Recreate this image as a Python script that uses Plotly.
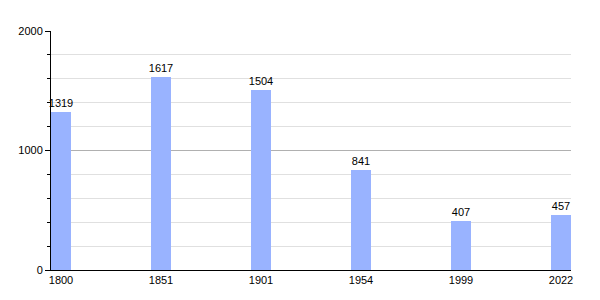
import plotly.graph_objects as go

years = ["1800", "1851", "1901", "1954", "1999", "2022"]
population = [1319, 1617, 1504, 841, 407, 457]
positions = list(range(len(years)))

fig = go.Figure(go.Bar(
    x=positions, y=population, width=0.2,
    marker=dict(color="#99b3ff", line=dict(width=0)),
    text=[str(v) for v in population], textposition="outside",
    textfont=dict(family="Liberation Sans, Arial", size=11, color="black"),
    constraintext="none",
    cliponaxis=False,
))

fig.update_layout(
    width=600, height=300,
    margin=dict(l=51, r=29, t=31, b=30),
    plot_bgcolor="white", paper_bgcolor="white",
    showlegend=False,
    font=dict(family="Liberation Sans, Arial", size=11, color="black"),
    bargap=0,
)
fig.update_xaxes(
    range=[-0.1, 5.1], tickvals=positions, ticktext=years,
    tickfont=dict(color="black"),
    showgrid=False, showline=True, linecolor="black", linewidth=1,
    ticks="", zeroline=False,
)
fig.update_yaxes(
    range=[0, 2000], tickvals=[0, 1000, 2000],
    tickfont=dict(color="black"),
    showgrid=True, gridcolor="#b0b0b0", gridwidth=1,
    showline=True, linecolor="black", linewidth=1,
    ticks="outside", ticklen=5, tickcolor="black",
    zeroline=False,
    minor=dict(dtick=200, showgrid=True, gridcolor="#e0e0e0",
               ticks="outside", ticklen=3, tickcolor="black"),
)
fig.write_html("out.html")
